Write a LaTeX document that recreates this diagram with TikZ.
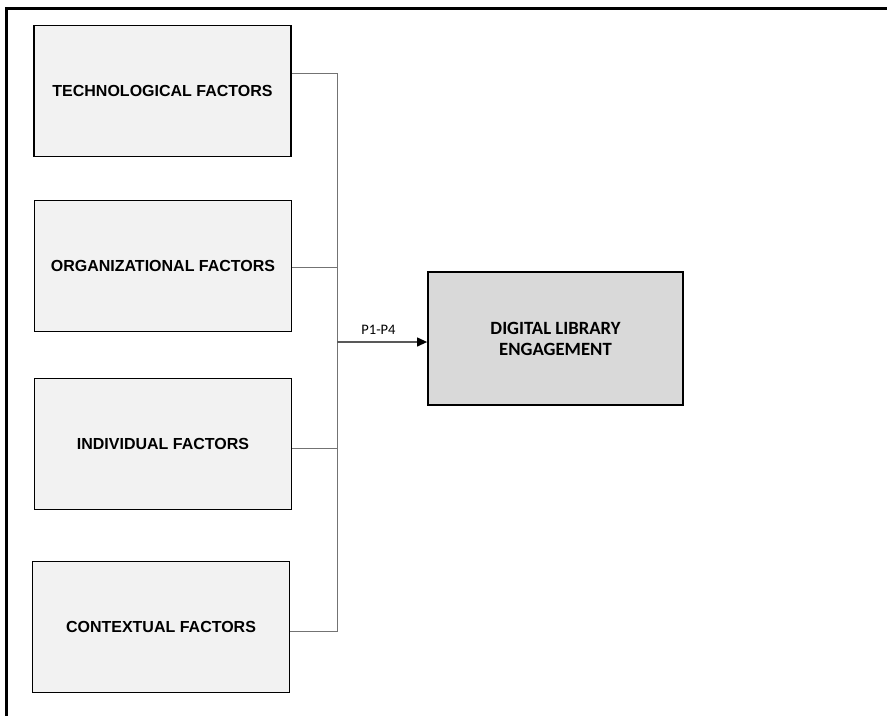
\documentclass[tikz,border=0pt]{standalone}
\usepackage{fontspec}
\setmainfont{Liberation Sans}
\newfontfamily\calibri{Carlito}
\usetikzlibrary{arrows.meta}
\begin{document}
\begin{tikzpicture}[x=1pt,y=-1pt,
  factor/.style={draw=black,line width=1.8pt,fill=black!5,minimum width=257pt,minimum height=131pt,inner sep=0pt,font=\fontsize{16}{19}\selectfont\bfseries},
  outcome/.style={draw=black,line width=1.8pt,fill=black!15,minimum width=255pt,minimum height=133pt,inner sep=0pt,align=center,font=\calibri\fontsize{18.7}{21}\selectfont\bfseries},
  link/.style={draw=black!55,line width=1pt},
  arrowlink/.style={draw=black!65,line width=1.2pt,-{Triangle[length=10pt,width=9pt,fill=black,color=black]}}]
\useasboundingbox (0,0) rectangle (887,716);
\draw[line width=3pt] (887,8) -- (6,8) -- (6,716);
\node[factor] (tech) at (162.5,91) {TECHNOLOGICAL FACTORS};
\node[factor] (org) at (163,266) {ORGANIZATIONAL FACTORS};
\node[factor] (ind) at (163,444) {INDIVIDUAL FACTORS};
\node[factor] (ctx) at (161,627) {CONTEXTUAL FACTORS};
\node[outcome] (dle) at (555.5,338.5) {DIGITAL LIBRARY\\ENGAGEMENT};
\coordinate (top) at (337,73);
\coordinate (bot) at (337,631);
\coordinate (jn) at (337,342);
\draw[link] (tech.east |- top) -- (top) -- (bot) -- (ctx.east |- bot);
\draw[link] (org.east) ++(0,1) -- (337,267);
\draw[link] (ind.east) ++(0,4) -- (337,448);
\draw[arrowlink] (jn) -- (dle.west |- jn);
\node[font=\calibri\fontsize{14.5}{16}\selectfont] (lab) at (378.5,330) {P1-P4};
\end{tikzpicture}
\end{document}
